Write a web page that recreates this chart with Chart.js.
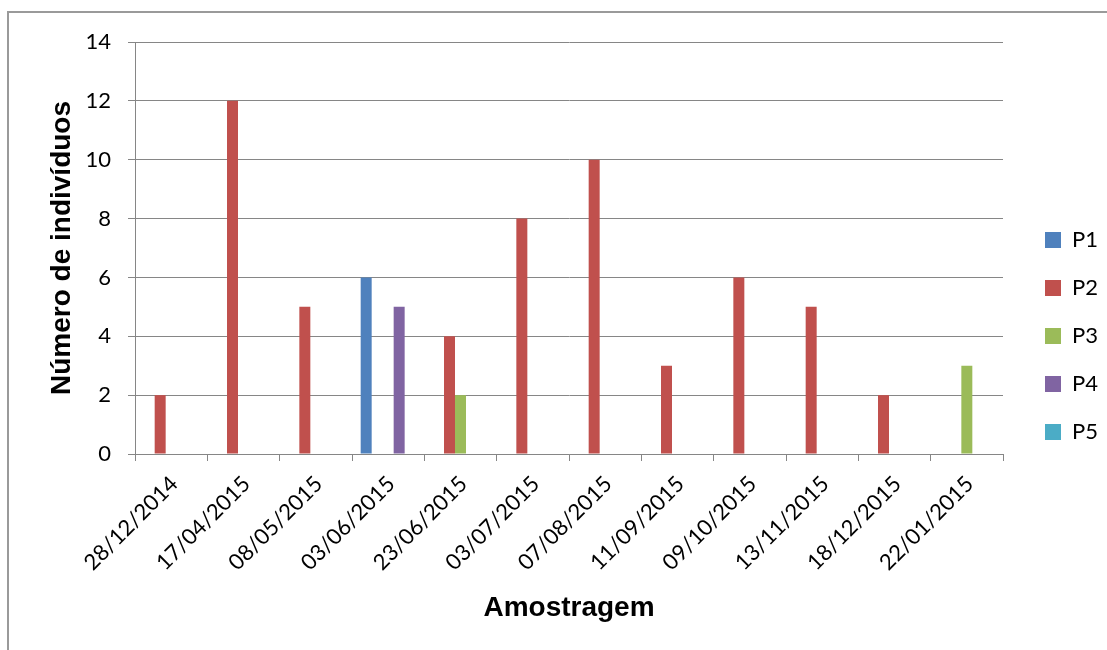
<!DOCTYPE html>
<html>
<head>
<meta charset="utf-8">
<script src="https://cdn.jsdelivr.net/npm/chart.js@4"></script>
<style>
    html, body { margin: 0; padding: 0; background: #fff; overflow: hidden; }
    #wrap { position: relative; width: 1107px; height: 650px; }
    #frame { position: absolute; left: 7px; top: 11px; width: 1200px; height: 800px; border: 2px solid #9a9a9a; pointer-events: none; }
</style>
</head>
<body>
<div id="wrap">
    <canvas id="chart" width="1107" height="650"></canvas>
    <div id="frame"></div>
</div>
<script>
const categories = ['28/12/2014', '17/04/2015', '08/05/2015', '03/06/2015', '23/06/2015', '03/07/2015',
    '07/08/2015', '11/09/2015', '09/10/2015', '13/11/2015', '18/12/2015', '22/01/2015'];
const p1 = [0, 0, 0, 6, 0, 0, 0, 0, 0, 0, 0, 0];
const p2 = [2, 12, 5, 0, 4, 8, 10, 3, 6, 5, 2, 0];
const p3 = [0, 0, 0, 0, 2, 0, 0, 0, 0, 0, 0, 3];
const p4 = [0, 0, 0, 5, 0, 0, 0, 0, 0, 0, 0, 0];
const p5 = [0, 0, 0, 0, 0, 0, 0, 0, 0, 0, 0, 0];
const yTicks = [0, 2, 4, 6, 8, 10, 12, 14];

const gridGrey = '#868686';
const tickFont = { family: 'Lato', size: 22 };
const titleFont = { family: 'Liberation Sans', size: 28, weight: 'bold' };

function series(label, data, color) {
    return { label: label, data: data, backgroundColor: color, borderWidth: 0 };
}

new Chart(document.getElementById('chart'), {
    type: 'bar',
    data: {
        labels: categories,
        datasets: [
            series('P1', p1, '#4F81BD'),
            series('P2', p2, '#C0504D'),
            series('P3', p3, '#9BBB59'),
            series('P4', p4, '#8064A2'),
            series('P5', p5, '#4BACC6')
        ]
    },
    options: {
        responsive: false,
        animation: false,
        categoryPercentage: 0.76,
        barPercentage: 1,
        layout: { padding: { top: 42, left: 0, right: 0, bottom: 20 } },
        plugins: {
            tooltip: { enabled: false },
            legend: {
                position: 'right',
                maxWidth: 88,
                labels: {
                    boxWidth: 16,
                    boxHeight: 16,
                    padding: 26,
                    color: '#000',
                    font: tickFont
                }
            }
        },
        scales: {
            x: {
                grid: { drawOnChartArea: false, tickLength: 7, color: gridGrey },
                border: { color: gridGrey },
                ticks: { color: '#000', font: tickFont, minRotation: 45, maxRotation: 45, padding: 10, labelOffset: 3 },
                title: { display: true, text: 'Amostragem', color: '#000', font: titleFont, padding: { top: 0, bottom: 5 } },
                afterFit: s => { s.height = 176; }
            },
            y: {
                min: 0,
                max: 14,
                afterBuildTicks: s => { s.ticks = yTicks.map(v => ({ value: v })); },
                grid: { color: gridGrey, tickLength: 7 },
                border: { color: gridGrey },
                ticks: { color: '#000', font: tickFont, padding: 17 },
                title: { display: true, text: 'Número de indivíduos', color: '#000', font: titleFont, padding: { top: 45, bottom: 0 } },
                afterFit: s => { s.width = 135; }
            },
            // empty spacer between plot and legend
            gap: {
                position: 'right',
                display: true,
                grid: { display: false },
                border: { display: false },
                ticks: { display: false },
                afterFit: s => { s.width = 16; }
            }
        }
    }
});
</script>
</body>
</html>
